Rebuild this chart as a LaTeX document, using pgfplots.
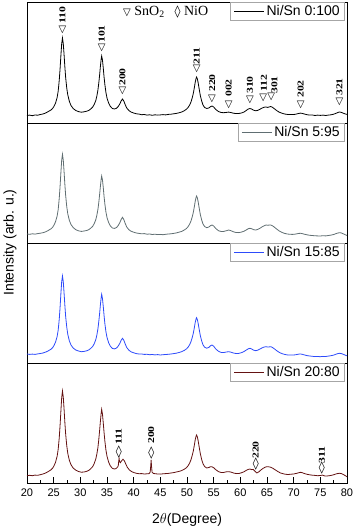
\documentclass[border=0pt]{standalone}
\usepackage{fontspec}
\setmainfont{Liberation Sans}
\newfontfamily\serif{Liberation Serif}
\newfontfamily\dejavu{DejaVu Sans}
\usepackage{graphicx}
\usepackage{pgfplots}
\pgfplotsset{compat=1.18}

\definecolor{c0}{RGB}{0,0,0}
\definecolor{c5}{RGB}{96,110,114}
\definecolor{c15}{RGB}{45,75,250}
\definecolor{c20}{RGB}{100,18,18}

% peak markers: x, marker height, label height, label
\newcommand{\tri}[2]{\node[font=\dejavu\fontsize{10}{10}\selectfont,inner sep=0pt] at (axis cs:#1,#2) {▽};}
\newcommand{\hkl}[3]{\node[rotate=90,font=\serif\bfseries\fontsize{9}{9}\selectfont,inner sep=0pt] at (axis cs:#1,#2) {\scalebox{1.3}[1]{#3}};}
\newcommand{\sno}[4]{\tri{#1}{#2}\hkl{#1}{#3}{#4}}
\newcommand{\nio}[4]{%
  \node[font=\dejavu\fontsize{12}{12}\selectfont,inner sep=0pt] at (axis cs:#1,#2) {◊};
  \hkl{#1}{#3}{#4}}

\pgfplotsset{
  panel/.style={
    scale only axis, width=320pt, height=120pt,
    xmin=20, xmax=80, ymin=0, ymax=120,
    ytick=\empty, xtick=\empty,
    axis line style={line width=0.8pt},
    clip=false,
    legend style={at={(1,1)}, anchor=north east, xshift=-2pt,
      draw=gray!70, fill=white, line width=0.6pt,
      font=\fontsize{14}{15}\selectfont, inner xsep=3pt, inner ysep=1pt,
      nodes={inner sep=2pt}},
    legend image code/.code={\draw[##1,line width=1pt] (0pt,0pt) -- (30pt,0pt);},
  },
  xrd/.style={line width=0.8pt, no marks},
}

\begin{document}
\begin{tikzpicture}
\path[use as bounding box] (-27pt,-48pt) rectangle (327pt,483pt);

% ---------- Ni/Sn 0:100 ----------
\begin{axis}[panel, at={(0pt,360pt)}, anchor=south west, height=121pt, ymax=121]
\addplot[xrd, c0] coordinates {
(20,7.5)(20.5,7.9)(21,7.3)(21.5,8.0)(22,7.8)(22.5,8.5)(23,9.0)(23.5,10.0)(24,11.5)(24.5,13)
(24.8,14.5)(25.05,16.5)(25.35,19.8)(25.65,25.5)(25.85,32)(26.05,43)(26.2,54)(26.35,67)(26.5,79)(26.65,85)
(26.8,79.5)(26.95,68.5)(27.1,56)(27.25,45.5)(27.45,35)(27.65,28)(27.95,21.5)(28.25,17.5)(28.65,14.5)(29.15,12.5)
(29.65,11.4)(30.2,10.8)(30.7,11.2)(31.2,11.8)(31.6,12.6)(31.9,13.8)(32.3,15.8)(32.6,18.5)(32.9,22.5)(33.1,27)
(33.3,33)(33.45,39.5)(33.6,47)(33.75,56)(33.9,63.5)(34.0,67)(34.15,63)(34.3,55)(34.45,46)(34.6,38.5)
(34.8,30.5)(35.0,25)(35.3,20)(35.6,16.8)(36.0,14.5)(36.4,14)(36.8,14.8)(37.1,16.5)(37.4,19)(37.65,22)
(37.9,24)(38.15,22)(38.4,18.5)(38.7,15)(39.1,12.5)(39.5,11)(40,10)(40.5,9.2)(41,8.9)(41.5,8.3)
(42,8.5)(42.5,7.9)(43,8.2)(43.5,7.7)(44,8.2)(44.5,7.9)(45,8.1)(45.5,8.4)(46,8.1)(46.5,8.6)
(47,8.8)(47.5,9.2)(48,9.6)(48.5,10.2)(49,11)(49.5,12.3)(49.9,13.8)(50.2,15.5)(50.5,18)(50.75,21)
(51.0,25.5)(51.2,30)(51.4,36)(51.55,41)(51.7,44.5)(51.8,46)(51.95,44)(52.1,40)(52.3,33.5)(52.5,27.5)
(52.75,22)(53.0,18)(53.3,15.5)(53.7,14.5)(54.1,15)(54.4,16.3)(54.7,17)(55.0,16)(55.4,13.5)(55.9,11.5)
(56.4,10.5)(56.9,10.3)(57.4,10.6)(57.8,10.9)(58.2,10.5)(58.7,9.8)(59.2,9.4)(59.7,9.5)(60.2,10)(60.7,11)
(61.1,12.5)(61.5,14)(61.8,14.5)(62.1,14)(62.5,12.8)(62.9,12.2)(63.3,12.7)(63.7,13.8)(64.1,15)(64.5,15.8)
(64.8,16)(65.1,15.6)(65.4,16)(65.7,16.5)(66.0,15.8)(66.4,14.2)(66.8,12.5)(67.3,10.8)(67.8,9.8)(68.3,9)
(68.8,8.6)(69.3,8.5)(69.8,8.4)(70.3,8.7)(70.7,9.2)(71.0,9.6)(71.3,9.9)(71.6,9.6)(72.0,9)(72.5,8.3)
(73,7.9)(73.5,8.0)(74,7.5)(74.5,7.9)(75,7.6)(75.5,7.9)(76,7.5)(76.5,7.9)(77,8.2)(77.5,8.8)
(77.9,9.6)(78.3,10.5)(78.6,11)(78.9,10.7)(79.3,9.8)(79.7,9.0)(80,8.6)
};
\legend{Ni/Sn 0:100}
\sno{26.65}{93}{108}{110}
\sno{34.0}{75.5}{89}{101}
\sno{37.9}{32.5}{46}{200}
\sno{51.8}{54}{67}{211}
\sno{54.7}{24}{40}{220}
\sno{57.8}{18}{35}{002}
\sno{61.8}{23}{38}{310}
\tri{64.3}{25}
\hkl{64.4}{40}{112}
\tri{65.8}{26}
\hkl{66.4}{38}{301}
\sno{71.3}{18.5}{34}{202}
\sno{78.6}{21.5}{36}{321}
\node[anchor=west, inner sep=0pt, font=\serif\fontsize{14}{14}\selectfont] at (axis cs:38.0,111)
  {{\dejavu\fontsize{10}{10}\selectfont▽} SnO\textsubscript{2}\hspace{10pt}{\dejavu\fontsize{12}{12}\selectfont◊} NiO};
\end{axis}

% ---------- Ni/Sn 5:95 ----------
\begin{axis}[panel, at={(0pt,240pt)}, anchor=south west]
\addplot[xrd, c5] coordinates {
(20,9)(20.5,8.7)(21,9.2)(21.5,8.9)(22,9.4)(22.5,9.8)(23,10.3)(23.5,11.2)(24,12.6)(24.5,14.2)
(24.8,15.7)(25.05,17.8)(25.35,21.3)(25.65,27)(25.85,33.5)(26.05,45)(26.2,56.5)(26.35,70)(26.5,82.5)(26.65,88.7)
(26.8,83)(26.95,71.5)(27.1,58.5)(27.25,47.5)(27.45,36.5)(27.65,29)(27.95,22.5)(28.25,18.5)(28.65,15.5)(29.15,13.3)
(29.65,12.2)(30.2,11.6)(30.7,12)(31.2,12.5)(31.6,13.4)(31.9,14.6)(32.3,16.6)(32.6,19.3)(32.9,23.3)(33.1,27.8)
(33.3,33.7)(33.45,40)(33.6,47.5)(33.75,56)(33.9,63.5)(34.0,67)(34.15,63)(34.3,55.5)(34.45,46.5)(34.6,39)
(34.8,31)(35.0,25.5)(35.3,20.5)(35.6,17.3)(36.0,15)(36.4,14.6)(36.8,15.5)(37.1,17.5)(37.4,20.3)(37.65,23.5)
(37.9,25.7)(38.15,23.5)(38.4,19.8)(38.7,16)(39.1,13.3)(39.5,11.8)(40,10.8)(40.5,10)(41,9.6)(41.5,9.2)
(42,9.4)(42.5,8.8)(43,9)(43.5,8.5)(44,8.8)(44.5,8.4)(45,8.6)(45.5,8.3)(46,8.7)(46.5,9)
(47,9.2)(47.5,9.6)(48,10.1)(48.5,10.8)(49,11.6)(49.5,13)(49.9,14.5)(50.2,16.3)(50.5,19)(50.75,22)
(51.0,26.5)(51.2,31)(51.4,37)(51.55,42)(51.7,45.5)(51.8,47)(51.95,45)(52.1,41)(52.3,34.5)(52.5,28.5)
(52.75,23)(53.0,19)(53.3,16.5)(53.7,15.3)(54.1,16)(54.4,17.3)(54.7,18)(55.0,17)(55.4,14.5)(55.9,12.3)
(56.4,11.5)(56.9,11.6)(57.4,12.3)(57.8,13)(58.2,12.4)(58.7,11.2)(59.2,10.5)(59.7,10.4)(60.2,10.9)(60.7,11.8)
(61.1,13)(61.5,14.3)(61.8,14.7)(62.1,14.3)(62.5,13.3)(62.9,13)(63.3,13.7)(63.7,14.8)(64.1,16.2)(64.5,17.3)
(64.8,18)(65.1,17.8)(65.4,17.9)(65.7,18)(66.0,17.3)(66.4,15.8)(66.8,14)(67.3,12)(67.8,10.6)(68.3,9.6)
(68.8,9)(69.3,8.7)(69.8,8.6)(70.3,8.9)(70.7,9.3)(71.0,9.6)(71.3,9.7)(71.6,9.4)(72.0,8.8)(72.5,8.2)
(73,7.7)(73.5,7.5)(74,7.2)(74.5,7.1)(75,7.0)(75.5,7.3)(76,7.1)(76.5,7.5)(77,7.9)(77.5,8.5)
(77.9,9.3)(78.3,10)(78.6,10.3)(78.9,10.1)(79.3,9.2)(79.7,8.2)(80,7.5)
};
\legend{Ni/Sn 5:95}
\end{axis}

% ---------- Ni/Sn 15:85 ----------
\begin{axis}[panel, at={(0pt,120pt)}, anchor=south west]
\addplot[xrd, c15] coordinates {
(20,9)(20.5,8.6)(21,8.9)(21.5,8.6)(22,9.1)(22.5,9.5)(23,10)(23.5,10.9)(24,12.2)(24.5,13.8)
(24.8,15.3)(25.05,17.4)(25.35,20.9)(25.65,26.5)(25.85,33)(26.05,44)(26.2,55.5)(26.35,69)(26.5,81)(26.65,87)
(26.8,81.5)(26.95,70)(27.1,57.5)(27.25,46.5)(27.45,36)(27.65,28.5)(27.95,22)(28.25,18)(28.65,15)(29.15,13)
(29.65,12)(30.2,11.3)(30.7,11.6)(31.2,12.2)(31.6,13.1)(31.9,14.4)(32.3,16.4)(32.6,19.2)(32.9,23.4)(33.1,28)
(33.3,34.2)(33.45,41)(33.6,48.5)(33.75,57.5)(33.9,65)(34.0,68.7)(34.15,64.5)(34.3,56.5)(34.45,47.5)(34.6,39.5)
(34.8,31.3)(35.0,25.6)(35.3,20.4)(35.6,17)(36.0,14.6)(36.4,14.1)(36.8,15)(37.1,16.9)(37.4,19.6)(37.65,22.7)
(37.9,24.7)(38.15,22.8)(38.4,19.2)(38.7,15.5)(39.1,12.8)(39.5,11.2)(40,10.2)(40.5,9.4)(41,9.0)(41.5,9.0)
(42,8.6)(42.5,8.7)(43,8.3)(43.5,8.5)(44,8.1)(44.5,8.4)(45,8.0)(45.5,8.3)(46,8.5)(46.5,8.7)
(47,9.0)(47.5,9.4)(48,9.8)(48.5,10.5)(49,11.3)(49.5,12.6)(49.9,14.1)(50.2,15.8)(50.5,18.3)(50.75,21.4)
(51.0,25.8)(51.2,30.2)(51.4,36)(51.55,40.8)(51.7,44)(51.8,45.3)(51.95,43.3)(52.1,39.4)(52.3,33.2)(52.5,27.4)
(52.75,22)(53.0,18.2)(53.3,15.8)(53.7,14.8)(54.1,15.6)(54.4,17.2)(54.7,18)(55.0,16.8)(55.4,14)(55.9,11.7)
(56.4,10.6)(56.9,10.5)(57.4,11)(57.8,11.3)(58.2,10.9)(58.7,10)(59.2,9.5)(59.7,9.6)(60.2,10.3)(60.7,11.5)
(61.1,12.9)(61.5,14.2)(61.8,14.7)(62.1,14.1)(62.5,12.8)(62.9,12.3)(63.3,12.9)(63.7,14)(64.1,15.2)(64.5,16)
(64.8,16.3)(65.1,16.0)(65.4,16.1)(65.7,16.3)(66.0,15.6)(66.4,14.1)(66.8,12.4)(67.3,10.6)(67.8,9.4)(68.3,8.6)
(68.8,8.1)(69.3,7.9)(69.8,7.9)(70.3,8.2)(70.7,8.6)(71.0,8.9)(71.3,9.0)(71.6,8.7)(72.0,8.1)(72.5,7.4)
(73,7.0)(73.5,6.7)(74,6.4)(74.5,6.5)(75,6.3)(75.5,6.6)(76,6.5)(76.5,6.9)(77,7.3)(77.5,7.9)
(77.9,8.7)(78.3,9.4)(78.6,9.7)(78.9,9.5)(79.3,8.7)(79.7,7.8)(80,7.2)
};
\legend{Ni/Sn 15:85}
\end{axis}

% ---------- Ni/Sn 20:80 ----------
\begin{axis}[panel, at={(0pt,0pt)}, anchor=south west,
  xtick={20,25,...,80}, minor x tick num=1, xtick pos=bottom, tick align=inside,
  major tick length=6pt, minor tick length=3pt,
  tick style={line width=0.7pt, black},
  x tick label style={font=\fontsize{11}{11}\selectfont, yshift=-2pt},
  /pgf/number format/assume math mode=true]
\addplot[xrd, c20] coordinates {
(20,7.3)(20.5,7.7)(21,7.3)(21.5,7.9)(22,7.7)(22.5,8.3)(23,9.0)(23.5,10.0)(24,11.5)(24.5,13.2)
(24.8,14.8)(25.05,17)(25.35,20.7)(25.65,26.8)(25.85,33.8)(26.05,45.5)(26.2,57.5)(26.35,71.5)(26.5,85)(26.65,92)
(26.8,86)(26.95,74)(27.1,60.5)(27.25,48.8)(27.45,37.5)(27.65,29.5)(27.95,22.5)(28.25,18.3)(28.65,15)(29.15,12.8)
(29.65,11.5)(30.2,10.8)(30.7,11)(31.2,11.7)(31.6,12.7)(31.9,14)(32.3,16.3)(32.6,19.5)(32.9,24)(33.1,29)
(33.3,35.5)(33.45,43)(33.6,51.5)(33.75,61)(33.9,69.5)(34.0,73.7)(34.15,69)(34.3,60)(34.45,50.5)(34.6,42)
(34.8,33)(35.0,26.8)(35.3,21)(35.6,17.3)(36.0,14.7)(36.4,14)(36.7,14.5)(37.0,16)(37.12,17.5)(37.2,22)
(37.27,24.7)(37.35,21.5)(37.5,20.3)(37.75,22.3)(38.0,23.7)(38.25,22.3)(38.5,19.3)(38.8,15.8)(39.2,13)(39.6,11.5)
(40,10.5)(40.5,9.7)(41,9.3)(41.5,9.4)(42,9)(42.5,9.2)(42.9,9.4)(43.1,11)(43.2,17)(43.27,23)
(43.35,17)(43.45,10.8)(43.7,9.6)(44,9.3)(44.5,9.0)(45,8.9)(45.5,9.2)(46,9.4)(46.5,9.6)(47,10)
(47.5,10.4)(48,11)(48.5,11.6)(49,12.4)(49.5,13.8)(49.9,15.3)(50.2,17.2)(50.5,20)(50.75,23.3)(51.0,28)
(51.2,32.5)(51.4,38.5)(51.55,43.5)(51.7,46.8)(51.8,48)(51.95,46)(52.1,42)(52.3,35.5)(52.5,29.3)(52.75,23.5)
(53.0,19.3)(53.3,16.5)(53.7,15)(54.1,15.5)(54.4,16.3)(54.65,16.3)(55.0,15.3)(55.4,13.3)(55.9,11.4)(56.4,10.5)
(56.9,10.6)(57.4,11.2)(57.9,11.3)(58.3,10.8)(58.8,9.9)(59.3,9.4)(59.8,9.6)(60.2,10.2)(60.7,11.3)(61.1,12.6)
(61.5,13.6)(61.8,14)(62.1,13.4)(62.4,13.6)(62.7,12)(63.1,10)(63.5,11.3)(63.9,13.2)(64.3,14.8)(64.7,15.9)
(65.0,16.3)(65.3,16.2)(65.7,15.8)(66.1,14.7)(66.5,13.3)(67,11.6)(67.5,10.1)(68,9.3)(68.5,8.7)(69,8.5)
(69.5,8.8)(70,9.0)(70.5,9.6)(71,10.3)(71.3,10.7)(71.6,10.3)(72,9.5)(72.5,8.7)(73,8.2)(73.5,7.8)
(74,7.6)(74.5,7.3)(75,7.5)(75.4,7.9)(75.8,7.1)(76.2,7.0)(76.7,7.3)(77,7.6)(77.5,8.2)(77.9,9)
(78.3,9.5)(78.6,9.7)(78.9,9.5)(79.3,8.5)(79.7,7.3)(80,6.3)
};
\legend{Ni/Sn 20:80}
\nio{37.2}{31.3}{46.3}{111}
\nio{43.3}{29.7}{48}{200}
\nio{62.9}{19}{33}{220}
\nio{75.3}{15.3}{28}{311}
\node[font=\fontsize{14}{14}\selectfont] at (axis description cs:0.5,0) [yshift=-37pt] {2$\theta$(Degree)};
\end{axis}

\node[rotate=90, font=\fontsize{14}{14}\selectfont] at (-17pt,240.5pt) {Intensity (arb. u.)};
\end{tikzpicture}
\end{document}
